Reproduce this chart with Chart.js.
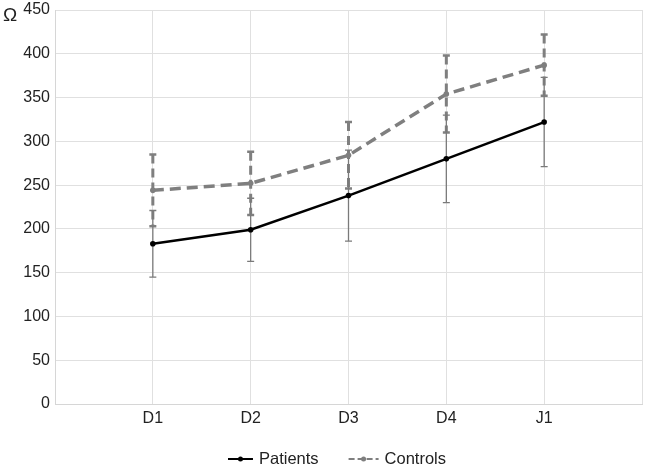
<!DOCTYPE html>
<html>
<head>
<meta charset="utf-8">
<script src="https://cdn.jsdelivr.net/npm/chart.js@4"></script>
<style>
  body { margin: 0; background: #fff; }
  #wrap { width: 646px; height: 467px; }
</style>
</head>
<body>
<div id="wrap"><canvas id="chart"></canvas></div>
<script>
// categorias y valores
const categories = ["D1", "D2", "D3", "D4", "J1"];
const patients = [183, 199, 238, 280, 322];
const patientsErr = [38, 36, 52, 50, 51];
const controls = [244, 252, 284, 354, 387];
const controlsErr = [41, 36, 38, 44, 35];
const yTicks = [0, 50, 100, 150, 200, 250, 300, 350, 400, 450];

const toPoints = arr => arr.map((v, i) => ({ x: i + 1, y: v }));
const FONT = "'Liberation Sans', Arial, sans-serif";

// barras de error y leyenda dibujadas con las escalas del grafico
const errorBars = {
    id: "errorBars",
    beforeDatasetsDraw(chart) {
        const { ctx, scales: { x, y } } = chart;
        const sets = [
            { vals: controls, err: controlsErr, color: "#7f7f7f", width: 3, dash: [9, 5] },
            { vals: patients, err: patientsErr, color: "#7a7a7a", width: 1.3, dash: [] },
        ];
        ctx.save();
        sets.forEach(s => {
            s.vals.forEach((v, i) => {
                const px = x.getPixelForValue(i + 1);
                const top = y.getPixelForValue(v + s.err[i]);
                const bot = y.getPixelForValue(v - s.err[i]);
                ctx.strokeStyle = s.color;
                ctx.lineWidth = s.width;
                ctx.setLineDash(s.dash);
                ctx.beginPath();
                ctx.moveTo(px, top);
                ctx.lineTo(px, bot);
                ctx.stroke();
                ctx.setLineDash([]);
                ctx.lineWidth = s.width > 2 ? 2.5 : 1.3;
                ctx.beginPath();
                ctx.moveTo(px - 3.5, top); ctx.lineTo(px + 3.5, top);
                ctx.moveTo(px - 3.5, bot); ctx.lineTo(px + 3.5, bot);
                ctx.stroke();
            });
        });
        ctx.restore();
    },
    afterDraw(chart) {
        const { ctx } = chart;
        ctx.save();
        // simbolo de la unidad
        ctx.fillStyle = "#222";
        ctx.font = "19px " + FONT;
        ctx.textBaseline = "middle";
        ctx.fillText("Ω", 3, 16);

        // leyenda: linea con punto + texto
        ctx.font = "16.5px " + FONT;
        const items = chart.data.datasets.map(ds => ({
            label: ds.label,
            color: ds.borderColor,
            dash: ds.borderDash ? [6, 3] : [],
            sample: ds.borderDash ? 30 : 25,
            w: ctx.measureText(ds.label).width,
        }));
        const gap = 6, spacing = 30;
        const total = items.reduce((a, it) => a + it.sample + gap + it.w, 0) + spacing * (items.length - 1);
        let xPos = chart.width / 2 + 14 - total / 2;
        const yPos = 459;
        items.forEach(it => {
            ctx.strokeStyle = it.color;
            ctx.lineWidth = 2;
            ctx.setLineDash(it.dash);
            ctx.beginPath();
            ctx.moveTo(xPos, yPos);
            ctx.lineTo(xPos + it.sample, yPos);
            ctx.stroke();
            ctx.setLineDash([]);
            ctx.fillStyle = it.color;
            ctx.beginPath();
            ctx.arc(xPos + it.sample / 2, yPos, 2.5, 0, Math.PI * 2);
            ctx.fill();
            xPos += it.sample + gap;
            ctx.fillStyle = "#222";
            ctx.textAlign = "left";
            ctx.fillText(it.label, xPos, yPos);
            xPos += it.w + spacing;
        });
        ctx.restore();
    }
};

new Chart(document.getElementById("chart"), {
    type: "line",
    data: {
        datasets: [
            {
                label: "Patients",
                data: toPoints(patients),
                borderColor: "#000",
                backgroundColor: "#000",
                borderWidth: 2.5,
                pointRadius: 2.8,
                pointBorderWidth: 0,
                pointBackgroundColor: "#000",
                tension: 0,
            },
            {
                label: "Controls",
                data: toPoints(controls),
                borderColor: "#7f7f7f",
                backgroundColor: "#7f7f7f",
                borderWidth: 3.5,
                borderDash: [11, 6],
                pointRadius: 2.8,
                pointBorderWidth: 0,
                pointBackgroundColor: "#7f7f7f",
                tension: 0,
            },
        ],
    },
    options: {
        responsive: true,
        maintainAspectRatio: false,
        animation: false,
        layout: { padding: 0 },
        scales: {
            x: {
                type: "linear",
                min: 0,
                max: 6,
                afterBuildTicks: s => { s.ticks = [0, 1, 2, 3, 4, 5, 6].map(v => ({ value: v })); },
                afterFit: s => { s.height = 63; s.paddingLeft = 0; s.paddingRight = 1; },
                ticks: {
                    callback: v => categories[v - 1] || "",
                    color: "#222",
                    font: { family: FONT, size: 16 },
                    maxRotation: 0,
                    padding: 5,
                },
                grid: { color: "#e0e0e0", drawTicks: false },
                border: { color: "#d6d6d6" },
            },
            y: {
                min: 0,
                max: 450,
                afterBuildTicks: s => { s.ticks = yTicks.map(v => ({ value: v })); },
                afterFit: s => { s.width = 55; s.paddingTop = 10; s.paddingBottom = 0; },
                ticks: {
                    color: "#222",
                    font: { family: FONT, size: 16 },
                    padding: 5,
                },
                grid: { color: "#e0e0e0", drawTicks: false },
                border: { color: "#d6d6d6" },
            },
        },
        plugins: {
            legend: { display: false },
            tooltip: { enabled: false },
        },
    },
    plugins: [errorBars],
});
</script>
</body>
</html>
